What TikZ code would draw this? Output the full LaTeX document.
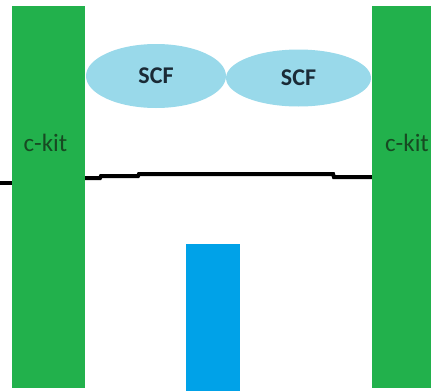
\documentclass[tikz,border=0pt]{standalone}
\usepackage{fontspec}
\setmainfont{Carlito}
\usetikzlibrary{shapes.geometric}
\definecolor{kitgreen}{HTML}{22B14C}
\definecolor{scfblue}{HTML}{99D9EA}
\definecolor{barblue}{HTML}{00A2E8}
\definecolor{kittext}{HTML}{174A22}
\definecolor{scftext}{HTML}{1A2A36}
\tikzset{
  kitbar/.style={fill=kitgreen, draw=none, inner sep=0pt},
  scfnode/.style={ellipse, fill=scfblue, draw=none, inner sep=0pt, font=\fontsize{24}{28}\selectfont\bfseries, text=scftext},
  kitlabel/.style={font=\fontsize{25}{28}\selectfont, text=kittext, inner sep=0pt},
  membrane/.style={line width=4pt, black},
}
\begin{document}
\begin{tikzpicture}[x=1pt, y=-1pt]
\useasboundingbox (0,0) rectangle (431,391);
\fill[white] (0,0) rectangle (431,391);
% c-kit bars
\node[kitbar, minimum width=73pt, minimum height=382pt] (ckitL) at (48.5,197) {};
\node[kitbar, minimum width=59pt, minimum height=382pt] (ckitR) at (401.5,197) {};
\node[kitlabel] (lblL) at (45.5,143) {c-kit};
\node[kitlabel] (lblR) at (407,143) {c-kit};
% SCF ellipses
\node[scfnode, minimum width=140pt, minimum height=64pt] (scf1) at (156,76) {SCF};
\node[scfnode, minimum width=145pt, minimum height=57pt] (scf2) at (298.5,78) {SCF};
% blue bar
\node[fill=barblue, draw=none, inner sep=0pt, minimum width=54pt, minimum height=147pt] (bar) at (213,317.5) {};
% membrane line
\coordinate (edgeL) at (0,183);
\draw[membrane] (edgeL) -- (ckitL.west |- edgeL);
\draw[membrane] (ckitL.east |- 0,178) -- (100,178) -- (101,176) -- (138,176) -- (139,174) -- (333,174) -- (334,177) -- (ckitR.west |- 0,177);
\end{tikzpicture}
\end{document}
